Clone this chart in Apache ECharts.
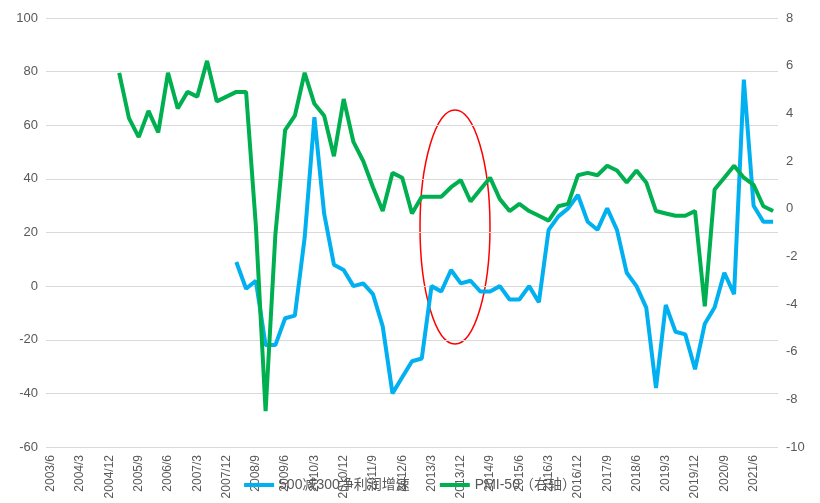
<!DOCTYPE html><html><head><meta charset="utf-8">
<script src="https://cdn.jsdelivr.net/npm/echarts@6/dist/echarts.min.js"></script>
<style>html,body{margin:0;padding:0;background:#fff}#c{width:820px;height:503px}</style></head><body><div id="c"></div>
<script>
const categories=[];for(let y=2003,m=6;categories.length<75;){categories.push(y+'/'+m);m+=3;if(m>12){m=3;y++;}}
const blueStart=19;
const blueValues=[9,-1,2,-22,-22,-12,-11,18,63,27,8,6,0,1,-3,-15,-40,-34,-28,-27,0,-2,6,1,2,-2,-2,0,-5,-5,0,-6,21,26,29,34,24,21,29,21,5,0,-8,-38,-7,-17,-18,-31,-14,-8,5,-3,77,30,24,24];
const greenStart=7;
const greenValues=[5.7,3.8,3.0,4.1,3.2,5.7,4.2,4.9,4.7,6.2,4.5,4.7,4.9,4.9,-0.7,-8.5,-1.1,3.3,3.9,5.7,4.4,3.9,2.2,4.6,2.8,2.0,0.9,-0.1,1.5,1.3,-0.2,0.5,0.5,0.5,0.9,1.2,0.3,0.8,1.3,0.4,-0.1,0.2,-0.1,-0.3,-0.5,0.1,0.2,1.4,1.5,1.4,1.8,1.6,1.1,1.6,1.1,-0.1,-0.2,-0.3,-0.3,-0.1,-4.1,0.8,1.3,1.8,1.3,1.0,0.1,-0.1];
function pad(start,vals){const a=new Array(categories.length).fill(null);vals.forEach((v,i)=>a[start+i]=v);return a;}
const ch=echarts.init(document.getElementById('c'));
const font={fontFamily:'Liberation Sans, Noto Sans CJK SC',color:'#595959',fontSize:13};
ch.setOption({animation:false,
grid:{left:46,right:42,top:18,bottom:56},
legend:{bottom:6,itemWidth:30,itemHeight:4,itemGap:30,textStyle:{...font,fontSize:14},icon:'rect',
 data:['500减300净利润增速','PMI-50（右轴）']},
xAxis:{type:'category',data:categories,boundaryGap:true,axisTick:{show:false},
 axisLine:{onZero:true,onZeroAxisIndex:0,lineStyle:{color:'#d9d9d9'}},
 axisLabel:{...font,rotate:90,interval:2,fontSize:12}},
yAxis:[{type:'value',min:-60,max:100,interval:20,axisLabel:{...font},splitLine:{lineStyle:{color:'#d9d9d9'}},axisLine:{show:false},axisTick:{show:false}},
 {type:'value',min:-10,max:8,interval:2,axisLabel:{...font},splitLine:{show:false},axisLine:{show:false},axisTick:{show:false}}],
series:[{name:'500减300净利润增速',type:'line',data:pad(blueStart,blueValues),symbol:'none',lineStyle:{width:4,color:'#00B0F0'},itemStyle:{color:'#00B0F0'}},
 {name:'PMI-50（右轴）',type:'line',yAxisIndex:1,data:pad(greenStart,greenValues),symbol:'none',lineStyle:{width:4,color:'#00B050'},itemStyle:{color:'#00B050'}}],
graphic:[{type:'ellipse',shape:{cx:455,cy:227,rx:35,ry:117},style:{fill:'none',stroke:'#FF0000',lineWidth:1.5}}]
});
</script></body></html>
